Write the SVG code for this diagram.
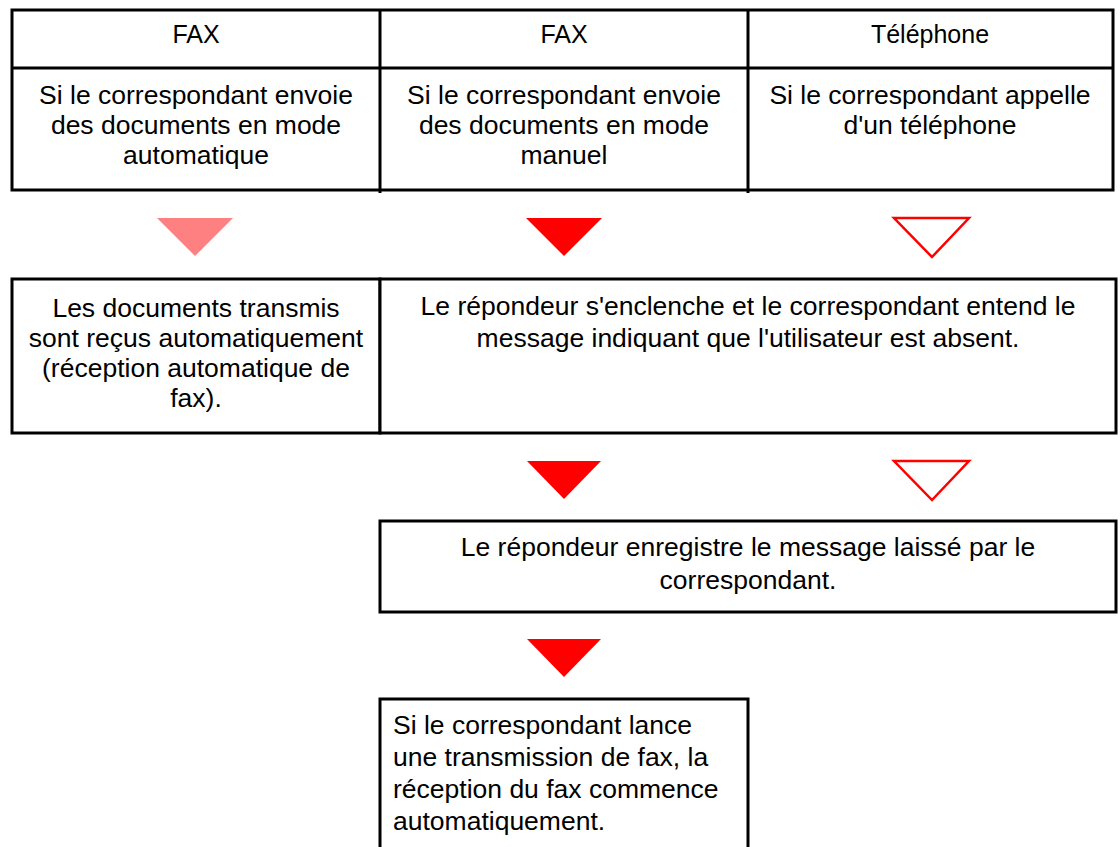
<svg xmlns="http://www.w3.org/2000/svg" width="1120" height="847" viewBox="0 0 1120 847">
<style>
.box{fill:#fff;stroke:#000;stroke-width:3}
.ln{stroke:#000;stroke-width:3;fill:none}
text{font-family:"Liberation Sans",Arial,sans-serif;font-size:26.5px;fill:#000}
.h{font-size:25px}
.c{text-anchor:middle}
.light{fill:#ff8080}
.solid{fill:#ff0000}
.open{fill:#fff;stroke:#ff0000;stroke-width:2.5}
</style>
<rect width="1120" height="847" fill="#fff"/>
<g id="table-top">
<rect class="box" x="12" y="10" width="1101" height="180"/>
<line class="ln" x1="12" y1="68" x2="1113" y2="68"/>
<line class="ln" x1="380" y1="10" x2="380" y2="193"/>
<line class="ln" x1="748" y1="10" x2="748" y2="193"/>
</g>
<g id="h1"><text class="h c" x="196" y="43">FAX</text></g>
<g id="h2"><text class="h c" x="564" y="43">FAX</text></g>
<g id="h3"><text class="h c" x="930" y="43">Téléphone</text></g>
<g id="c1" class="c">
<text class="c" x="196" y="104">Si le correspondant envoie</text>
<text class="c" x="196" y="134">des documents en mode</text>
<text class="c" x="196" y="164">automatique</text>
</g>
<g id="c2">
<text class="c" x="564" y="104">Si le correspondant envoie</text>
<text class="c" x="564" y="134">des documents en mode</text>
<text class="c" x="564" y="164">manuel</text>
</g>
<g id="c3">
<text class="c" x="930" y="104">Si le correspondant appelle</text>
<text class="c" x="930" y="134">d'un téléphone</text>
</g>
<g id="r2a">
<rect class="box" x="12" y="279" width="368" height="154"/>
<text class="c" x="196" y="317">Les documents transmis</text>
<text class="c" x="196" y="347">sont reçus automatiquement</text>
<text class="c" x="196" y="377">(réception automatique de</text>
<text class="c" x="196" y="407">fax).</text>
</g>
<g id="r2b">
<rect class="box" x="380" y="279" width="736" height="154"/>
<text class="c" x="748" y="315">Le répondeur s'enclenche et le correspondant entend le</text>
<text class="c" x="748" y="347">message indiquant que l'utilisateur est absent.</text>
</g>
<g id="r3">
<rect class="box" x="380" y="521" width="736" height="91"/>
<text class="c" x="748" y="556">Le répondeur enregistre le message laissé par le</text>
<text class="c" x="748" y="589">correspondant.</text>
</g>
<g id="r4">
<path class="ln" d="M380,847 V699 H748 V847"/>
<text x="393" y="734">Si le correspondant lance</text>
<text x="393" y="766">une transmission de fax, la</text>
<text x="393" y="798">réception du fax commence</text>
<text x="393" y="830">automatiquement.</text>
</g>
<g id="connectors">
<polygon class="light" points="157,218 233,218 195,256"/>
<polygon class="solid" points="526,218 602,218 564,256"/>
<polygon class="open" points="894,218 969,218 932,257"/>
<polygon class="solid" points="527,461 601,461 564,499"/>
<polygon class="open" points="894,461 969,461 932,500"/>
<polygon class="solid" points="527,639 601,639 564,677"/>
</g>
</svg>
